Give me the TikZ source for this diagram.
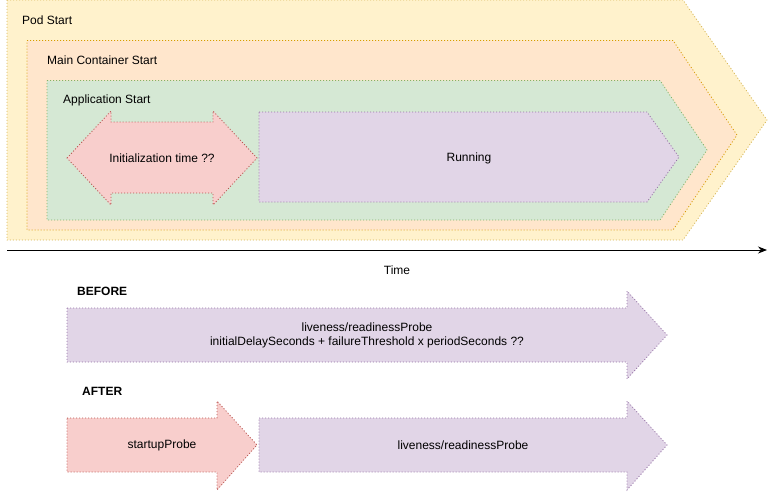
\documentclass[tikz,border=0pt]{standalone}
\usepackage{fontspec}
\setmainfont{Liberation Sans}
\usepackage{xcolor}
\usepackage{tikz}
\usetikzlibrary{arrows.meta}

\definecolor{podfill}{HTML}{FFF2CC}
\definecolor{poddraw}{HTML}{D6B656}
\definecolor{mainfill}{HTML}{FFE6CC}
\definecolor{maindraw}{HTML}{D79B00}
\definecolor{appfill}{HTML}{D5E8D4}
\definecolor{appdraw}{HTML}{82B366}
\definecolor{redfill}{HTML}{F8CECC}
\definecolor{reddraw}{HTML}{B85450}
\definecolor{purplefill}{HTML}{E1D5E7}
\definecolor{purpledraw}{HTML}{9673A6}

\begin{document}
\begin{tikzpicture}[x=1pt,y=-1pt,
    dotline/.style={line width=0.8pt,dash pattern=on 1pt off 2pt},
    podshape/.style={dotline,fill=podfill,draw=poddraw},
    mainshape/.style={dotline,fill=mainfill,draw=maindraw},
    appshape/.style={dotline,fill=appfill,draw=appdraw},
    redshape/.style={dotline,fill=redfill,draw=reddraw},
    purpleshape/.style={dotline,fill=purplefill,draw=purpledraw},
    txt/.style={font=\fontsize{12}{14}\selectfont,inner sep=0pt,align=center},
    bold/.style={txt,font=\fontsize{12}{14}\selectfont\bfseries}]
  \useasboundingbox (0,0) rectangle (776,491);
  % nested start phases
  \draw[podshape] (7,0) -- (683,0) -- (767,120) -- (683,240) -- (7,240) -- cycle;
  \draw[mainshape] (27,40.5) -- (673,40.5) -- (737,135) -- (673,230) -- (27,230) -- cycle;
  \draw[appshape] (47,80.5) -- (660,80.5) -- (707,150) -- (660,220) -- (47,220) -- cycle;
  \draw[redshape] (67,158) -- (111,111) -- (111,122) -- (213,122) -- (213,111) -- (257,158)
    -- (213,205) -- (213,193) -- (111,193) -- (111,205) -- cycle;
  \draw[purpleshape] (259,112) -- (647,112) -- (679,157) -- (647,202) -- (259,202) -- cycle;
  \node[txt,anchor=west] (podlabel) at (22,20) {Pod Start};
  \node[txt,anchor=west] (mainlabel) at (47,60) {Main Container Start};
  \node[txt,anchor=west] (applabel) at (63,100) {Application Start};
  \node[txt] (initlabel) at (162,158) {Initialization time ??};
  \node[txt] (runlabel) at (469,158) {Running};
  % time axis
  \coordinate (tstart) at (7,250);
  \coordinate (tend) at (767,250);
  \draw[line width=0.8pt,-{Stealth[length=9pt,width=7pt]}] (tstart) -- (tend);
  \node[txt] (timelabel) at (397,270) {Time};
  % before
  \node[bold,anchor=west] (beforelabel) at (77,291) {BEFORE};
  \draw[purpleshape] (67,308) -- (627,308) -- (627,291) -- (667,335) -- (627,379)
    -- (627,362) -- (67,362) -- cycle;
  \node[txt] (beforeprobe) at (367,335) {liveness/readinessProbe\\initialDelaySeconds + failureThreshold x periodSeconds ??};
  % after
  \node[bold,anchor=west] (afterlabel) at (82,391) {AFTER};
  \draw[redshape] (67,418) -- (217,418) -- (217,401) -- (257,445) -- (217,490)
    -- (217,472) -- (67,472) -- cycle;
  \draw[purpleshape] (259,418) -- (627,418) -- (627,401) -- (667,445) -- (627,490)
    -- (627,472) -- (259,472) -- cycle;
  \node[txt] (startuplabel) at (162,445) {startupProbe};
  \node[txt] (afterprobe) at (463,445) {liveness/readinessProbe};
\end{tikzpicture}
\end{document}
